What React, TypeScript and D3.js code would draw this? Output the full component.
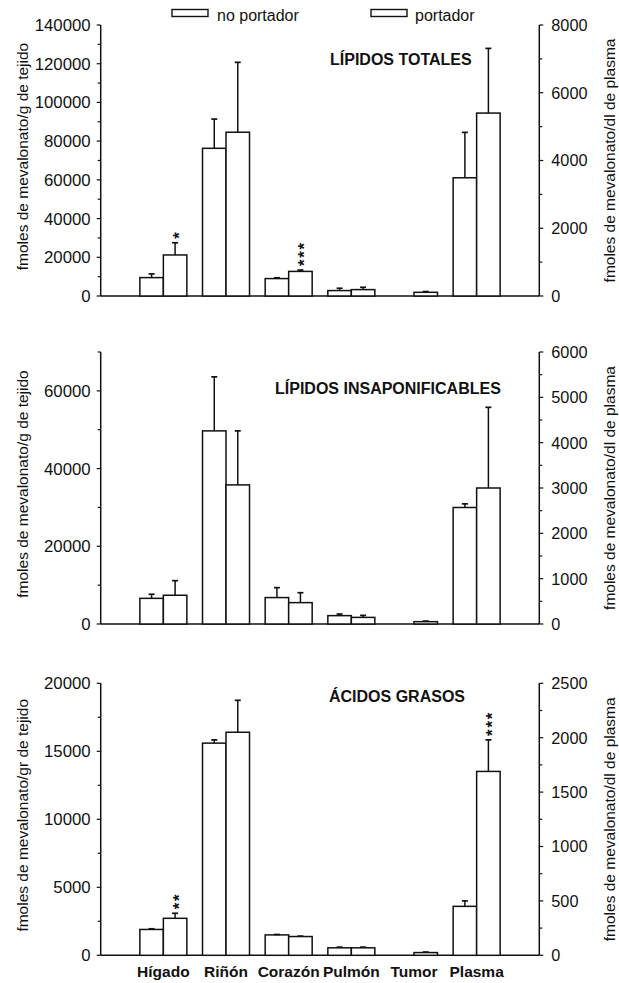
import React from "react";
import * as d3 from "d3";

// ---------- data ----------
const categories = ["Hígado", "Riñón", "Corazón", "Pulmón", "Tumor", "Plasma"];
const seriesNames = ["no portador", "portador"];
const panelTitles = ["LÍPIDOS TOTALES", "LÍPIDOS INSAPONIFICABLES", "ÁCIDOS GRASOS"];
const leftTitles = [
  "fmoles de mevalonato/g de tejido",
  "fmoles de mevalonato/g de tejido",
  "fmoles de mevalonato/gr de tejido",
];
const rightTitles = [
  "fmoles de mevalonato/dl de plasma",
  "fmoles de mevalonato/dl de plasma",
  "fmoles de mevalonato/dl de plasma",
];
// left axis (tissue) and right axis (plasma) extents and tick steps
const leftMax = [140000, 70000, 20000];
const leftMajor = [20000, 20000, 5000];
const leftMinor = [10000, 10000, 2500];
const rightMax = [8000, 6000, 2500];
const rightMajor = [2000, 1000, 500];
const rightMinor = [1000, 500, 250];

// Plasma (last category) values are on the right axis; null = no bar
const totalNoPort = [9500, 76300, 9000, 2800, null, 3490];
const totalNoPortErr = [1900, 15100, 400, 1200, null, 1340];
const totalPort = [21200, 84600, 12700, 3300, 1900, 5400];
const totalPortErr = [6300, 36100, 700, 1200, 400, 1910];
const totalStars = [1, 0, 3, 0, 0, 0];

const insapNoPort = [6600, 49700, 6800, 2150, null, 2570];
const insapNoPortErr = [1050, 13900, 2550, 420, null, 80];
const insapPort = [7400, 35800, 5500, 1700, 600, 3000];
const insapPortErr = [3750, 13900, 2550, 520, 150, 1780];
const insapStars = [0, 0, 0, 0, 0, 0];

const fattyNoPort = [1900, 15600, 1500, 550, null, 450];
const fattyNoPortErr = [50, 240, 30, 50, null, 50];
const fattyPort = [2720, 16400, 1380, 550, 200, 1690];
const fattyPortErr = [370, 2350, 30, 50, 40, 290];
const fattyStars = [2, 0, 0, 0, 0, 3];

const panels = [
  { np: totalNoPort, npe: totalNoPortErr, p: totalPort, pe: totalPortErr, stars: totalStars },
  { np: insapNoPort, npe: insapNoPortErr, p: insapPort, pe: insapPortErr, stars: insapStars },
  { np: fattyNoPort, npe: fattyNoPortErr, p: fattyPort, pe: fattyPortErr, stars: fattyStars },
];

// ---------- layout ----------
const W = 619;
const H = 983;
const axisLeft = 100.7;
const axisRight = 539.3;
const panelBottom = [296, 624, 955.3];
const panelTop = [25, 352, 683.3];
const titleX = [330, 275, 329];
const titleY = [65, 394, 702];
const FONT = "'Liberation Sans', Arial, Helvetica, sans-serif";
const BAR_W = 0.375;

const x = d3.scaleLinear().domain([0, 7]).range([axisLeft, axisRight]);

function range(step: number, max: number) {
  return d3.range(0, max + step / 2, step);
}

function Panel({ idx }: { idx: number }) {
  const d = panels[idx];
  const yL = d3.scaleLinear().domain([0, leftMax[idx]]).range([panelBottom[idx], panelTop[idx]]);
  const yR = d3.scaleLinear().domain([0, rightMax[idx]]).range([panelBottom[idx], panelTop[idx]]);
  const y0 = panelBottom[idx];
  const mid = (panelBottom[idx] + panelTop[idx]) / 2;
  const bars: JSX.Element[] = [];
  categories.forEach((c, i) => {
    const ys = i === categories.length - 1 ? yR : yL;
    const series = [
      { v: d.np[i], e: d.npe[i], off: -BAR_W },
      { v: d.p[i], e: d.pe[i], off: 0 },
    ];
    series.forEach((s, si) => {
      if (s.v == null) return;
      const x0 = x(i + 1 + s.off);
      const x1 = x(i + 1 + s.off + BAR_W);
      const cx = (x0 + x1) / 2;
      const top = ys(s.v);
      const etop = ys(s.v + (s.e || 0));
      const nStars = si === 1 ? d.stars[i] : 0;
      bars.push(
        <g key={`${c}-${si}`}>
          <rect x={x0} y={top} width={x1 - x0} height={y0 - top} fill="#fff" stroke="#111" strokeWidth={1.5} />
          <line x1={cx} x2={cx} y1={top} y2={etop} stroke="#111" strokeWidth={1.5} />
          <line x1={cx - 3} x2={cx + 3} y1={etop} y2={etop} stroke="#111" strokeWidth={1.7} />
          {nStars > 0 && (
            <text
              transform={`translate(${cx},${etop - 4}) rotate(-90)`}
              dy="0.57em"
              letterSpacing={1.7}
              fontSize={17}
              fontWeight="bold"
              fontFamily={FONT}
              fill="#111"
            >
              {"*".repeat(nStars)}
            </text>
          )}
        </g>
      );
    });
  });

  return (
    <g>
      {/* left axis */}
      <line x1={axisLeft} x2={axisLeft} y1={panelTop[idx]} y2={y0} stroke="#111" strokeWidth={1.5} />
      {range(leftMinor[idx], leftMax[idx]).map((v) => {
        const major = Math.abs(v / leftMajor[idx] - Math.round(v / leftMajor[idx])) < 1e-9;
        return (
          <g key={`l${v}`}>
            <line x1={axisLeft - (major ? 4 : 3)} x2={axisLeft} y1={yL(v)} y2={yL(v)} stroke="#111" strokeWidth={1.2} />
            {major && (
              <text x={axisLeft - 10} y={yL(v)} dy="0.36em" textAnchor="end" fontSize={16.8} fontFamily={FONT} fill="#111">
                {v}
              </text>
            )}
          </g>
        );
      })}
      {/* right axis */}
      <line x1={axisRight} x2={axisRight} y1={panelTop[idx]} y2={y0} stroke="#111" strokeWidth={1.5} />
      {range(rightMinor[idx], rightMax[idx]).map((v) => {
        const major = Math.abs(v / rightMajor[idx] - Math.round(v / rightMajor[idx])) < 1e-9;
        return (
          <g key={`r${v}`}>
            <line x1={axisRight} x2={axisRight + (major ? 4 : 3)} y1={yR(v)} y2={yR(v)} stroke="#111" strokeWidth={1.2} />
            {major && (
              <text x={axisRight + 12} y={yR(v)} dy="0.36em" textAnchor="start" fontSize={16.3} fontFamily={FONT} fill="#111">
                {v}
              </text>
            )}
          </g>
        );
      })}
      {/* baseline */}
      <line x1={axisLeft} x2={axisRight} y1={y0} y2={y0} stroke="#111" strokeWidth={1.5} />
      {bars}
      {/* axis titles */}
      <text
        transform={`translate(22,${mid - 4}) rotate(-90)`}
        dy="0.36em"
        textAnchor="middle"
        fontSize={15.5}
        fontFamily={FONT}
        fill="#111"
      >
        {leftTitles[idx]}
      </text>
      <text
        transform={`translate(610,${mid}) rotate(-90)`}
        dy="0.34em"
        textAnchor="middle"
        fontSize={15.5}
        fontFamily={FONT}
        fill="#111"
      >
        {rightTitles[idx]}
      </text>
      {/* panel title */}
      <text x={titleX[idx]} y={titleY[idx]} fontSize={16} fontWeight="bold" fontFamily={FONT} fill="#111">
        {panelTitles[idx]}
      </text>
    </g>
  );
}

export default function App() {
  return (
    <div style={{ position: "absolute", left: 0, top: 0 }}>
      <svg width={W} height={H} viewBox={`0 0 ${W} ${H}`} style={{ display: "block", background: "#fff" }}>
        <rect width={W} height={H} fill="#fff" />
        {/* legend */}
        <rect x={172} y={9.5} width={36} height={7} fill="#fff" stroke="#111" strokeWidth={1.4} />
        <text x={217} y={20.5} fontSize={16} fontFamily={FONT} fill="#111">
          {seriesNames[0]}
        </text>
        <rect x={371} y={9.5} width={36} height={7} fill="#fff" stroke="#111" strokeWidth={1.4} />
        <text x={415} y={20.5} fontSize={16} fontFamily={FONT} fill="#111">
          {seriesNames[1]}
        </text>
        {[0, 1, 2].map((i) => (
          <Panel key={i} idx={i} />
        ))}
        {/* category labels */}
        {categories.map((c, i) => (
          <text
            key={c}
            x={x(i + 1)}
            y={977}
            textAnchor="middle"
            fontSize={15.5}
            fontWeight="bold"
            fontFamily={FONT}
            fill="#111"
          >
            {c}
          </text>
        ))}
      </svg>
    </div>
  );
}
